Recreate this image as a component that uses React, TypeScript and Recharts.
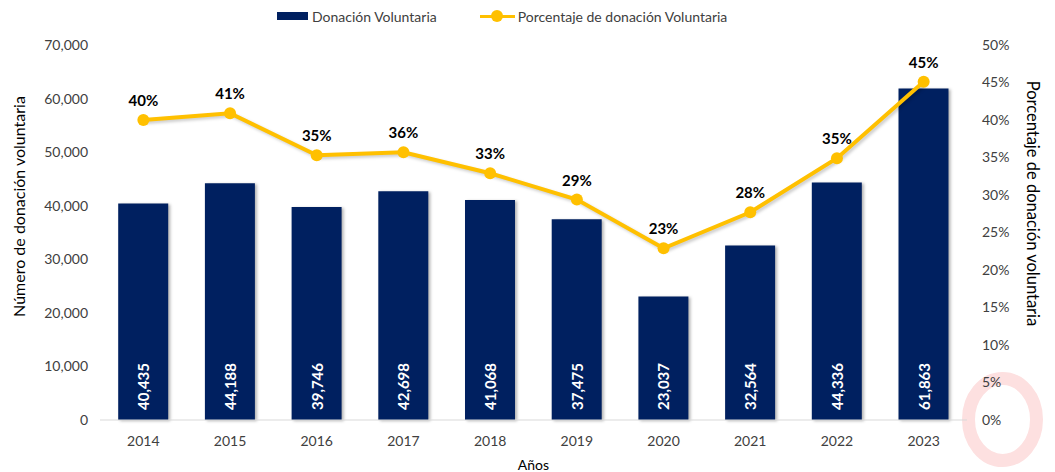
import React from "react";
import {
  ComposedChart,
  Bar,
  Line,
  XAxis,
  YAxis,
  LabelList,
} from "recharts";

const years = ["2014", "2015", "2016", "2017", "2018", "2019", "2020", "2021", "2022", "2023"];
const donations = [40435, 44188, 39746, 42698, 41068, 37475, 23037, 32564, 44336, 61863];
const percentages = [40.0, 40.9, 35.3, 35.7, 32.9, 29.4, 22.9, 27.7, 34.9, 45.1];
const leftTicks = [0, 10000, 20000, 30000, 40000, 50000, 60000, 70000];
const rightTicks = [0, 5, 10, 15, 20, 25, 30, 35, 40, 45, 50];

const data = years.map((y, i) => ({ year: y, donacion: donations[i], pct: percentages[i] }));

const FONT = "Lato, 'Open Sans', sans-serif";
const BLUE = "#002060";
const GOLD = "#FFC000";
const TICK = "#404040";

const fmt = (v: number) => v.toLocaleString("en-US");

const BarValueLabel = (props: any) => {
  const { x, y, width, height, value } = props;
  const cx = x + width / 2;
  const by = y + height - 10;
  return (
    <text
      x={cx}
      y={by}
      transform={`rotate(-90, ${cx}, ${by})`}
      textAnchor="start"
      dominantBaseline="central"
      fill="#ffffff"
      fontWeight="bold"
      fontSize={15}
      fontFamily={FONT}
    >
      {fmt(value)}
    </text>
  );
};

const LineValueLabel = (props: any) => {
  const { x, y, value } = props;
  return (
    <text
      x={x}
      y={y - 20}
      textAnchor="middle"
      dominantBaseline="central"
      fill="#000000"
      fontWeight="bold"
      fontSize={15}
      fontFamily={FONT}
    >
      {`${Math.round(value)}%`}
    </text>
  );
};

const LeftTitle = (props: any) => {
  const vb = props.viewBox || {};
  const x = vb.x + 18;
  const y = vb.y + vb.height / 2 - 26;
  return (
    <text
      x={x}
      y={y}
      transform={`rotate(-90, ${x}, ${y})`}
      textAnchor="middle"
      dominantBaseline="central"
      fill="#000000"
      fontSize={16}
      fontFamily={FONT}
    >
      Número de donación voluntaria
    </text>
  );
};

const RightTitle = (props: any) => {
  const vb = props.viewBox || {};
  const x = vb.x + 66;
  const y = vb.y + vb.height / 2 - 29;
  return (
    <text
      x={x}
      y={y}
      transform={`rotate(90, ${x}, ${y})`}
      textAnchor="middle"
      dominantBaseline="central"
      fill="#000000"
      fontSize={16.5}
      fontFamily={FONT}
    >
      Porcentaje de donación voluntaria
    </text>
  );
};

const LegendBar = () => (
  <div style={{ position: "absolute", left: 277, top: 7, display: "flex", alignItems: "center", fontFamily: FONT, fontSize: 14, color: TICK, zIndex: 2 }}>
    <div style={{ width: 31, height: 8, background: BLUE, marginRight: 4 }} />
    <span>Donación Voluntaria</span>
    <div style={{ width: 35, height: 18, position: "relative", marginLeft: 43, marginRight: 3 }}>
      <div style={{ position: "absolute", left: 0, right: 0, top: 7.5, height: 3, background: GOLD }} />
      <div style={{ position: "absolute", left: 11.5, top: 3, width: 12, height: 12, borderRadius: 6, background: GOLD }} />
    </div>
    <span>Porcentaje de donación Voluntaria</span>
  </div>
);

export default function App() {
  return (
    <div style={{ position: "absolute", left: 0, top: 0, width: 1055, height: 472, background: "#ffffff", overflow: "hidden" }}>
      <style>{`
        .recharts-bar-rectangle path { filter: drop-shadow(2px 1px 1.5px rgba(0,0,0,0.3)); }
        .recharts-line-curve { filter: drop-shadow(2px 2px 1.5px rgba(0,0,0,0.2)); }
      `}</style>
      <svg width={1055} height={472} style={{ position: "absolute", left: 0, top: 0 }}>
        <ellipse cx={1002.5} cy={419.5} rx={34} ry={41} fill="none" stroke="#fde0e0" strokeWidth={13} />
      </svg>
      <LegendBar />
      <div style={{ position: "relative" }}>
        <ComposedChart
          width={1055}
          height={472}
          data={data}
          margin={{ top: 45, right: 0, bottom: 0, left: 0 }}
          barCategoryGap="21%"
        >
          <XAxis
            dataKey="year"
            height={52}
            tickLine={false}
            axisLine={{ stroke: "#d9d9d9" }}
            tick={{ fill: TICK, fontSize: 14, fontFamily: FONT }}
            tickMargin={10}
            label={{ value: "Años", position: "insideBottom", offset: 2, fill: "#000", fontSize: 14, fontFamily: FONT }}
          />
          <YAxis
            yAxisId="left"
            width={100}
            domain={[0, 70000]}
            ticks={leftTicks}
            tickFormatter={fmt}
            axisLine={false}
            tickLine={false}
            tickMargin={6}
            tick={{ fill: TICK, fontSize: 14, fontFamily: FONT }}
            label={<LeftTitle />}
          />
          <YAxis
            yAxisId="right"
            orientation="right"
            width={88}
            domain={[0, 50]}
            ticks={rightTicks}
            tickFormatter={(v: number) => `${v}%`}
            axisLine={false}
            tickLine={false}
            tickMargin={9}
            tick={{ fill: TICK, fontSize: 14, fontFamily: FONT, textAnchor: "start" }}
            label={<RightTitle />}
          />
          <Bar yAxisId="left" dataKey="donacion" fill={BLUE} isAnimationActive={false}>
            <LabelList dataKey="donacion" content={<BarValueLabel />} />
          </Bar>
          <Line
            yAxisId="right"
            dataKey="pct"
            stroke={GOLD}
            strokeWidth={4}
            dot={{ r: 6, fill: GOLD, stroke: GOLD, strokeWidth: 0 }}
            activeDot={false}
            isAnimationActive={false}
          >
            <LabelList dataKey="pct" content={<LineValueLabel />} />
          </Line>
        </ComposedChart>
      </div>
    </div>
  );
}
